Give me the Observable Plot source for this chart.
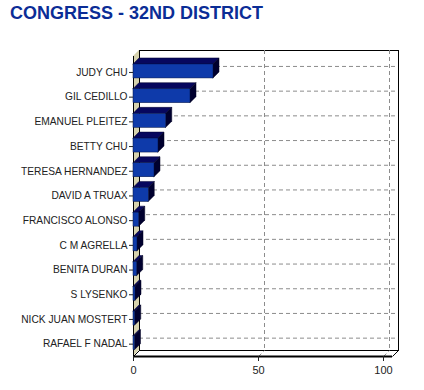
<!DOCTYPE html>
<html><head><meta charset="utf-8">
<script src="https://cdn.jsdelivr.net/npm/d3@7"></script>
<script src="https://cdn.jsdelivr.net/npm/@observablehq/plot@0.6"></script>
<style>
body{margin:0;background:#fff;}
#title{height:27px;padding:3px 0 0 10px;font:bold 18px/20px "Liberation Sans",Arial,sans-serif;color:#0b2d96;white-space:nowrap;}
</style></head><body>
<div id="title">CONGRESS - 32ND DISTRICT</div>
<div id="chart"></div>
<script>
const candidates = ["JUDY CHU","GIL CEDILLO","EMANUEL PLEITEZ","BETTY CHU","TERESA HERNANDEZ","DAVID A TRUAX","FRANCISCO ALONSO","C M AGRELLA","BENITA DURAN","S LYSENKO","NICK JUAN MOSTERT","RAFAEL F NADAL"];
const votes = [32.0, 22.8, 13.1, 10.0, 8.4, 6.1, 2.3, 1.6, 1.5, 0.8, 0.7, 0.6];
const xTicks = [0, 50, 100];

const rows = candidates.map((name, i) => ({name, v: votes[i], i}));

// 3-D depth styling constants (converted to data units)
const PX_X = 2.5, STEP = 24.7;
const DX = 6 / PX_X, DY = 6 / STEP;
const FT = -8 / STEP, FB = 6 / STEP;
const TOP = -0.5 - 3.6 / STEP, BOT = 11.5;
const XR = 100 + 9 / PX_X;

const topFaces = rows.flatMap(d => [
  {i: d.i, y: d.i + FT, x1: 0, x2: d.v},
  {i: d.i, y: d.i + FT - DY, x1: DX, x2: d.v + DX}
]);
const sideFaces = rows.flatMap(d => [
  {i: d.i, x: d.v, y1: d.i + FB, y2: d.i + FT},
  {i: d.i, x: d.v + DX, y1: d.i + FB - DY, y2: d.i + FT - DY}
]);
const wall = [{x: 0, y1: BOT, y2: TOP}, {x: DX, y1: BOT - DY, y2: TOP - DY}];
const grid = "#8c8c8c", dash = "4,3";

const chart = Plot.plot({
  width: 424, height: 360,
  marginTop: 26, marginBottom: 34, marginLeft: 133, marginRight: 32,
  x: {domain: [0, 100], insetRight: 9},
  y: {domain: [-0.5, 11.5], reverse: true, insetTop: 3.6},
  style: {fontFamily: '"Liberation Sans", Arial, sans-serif', background: "#fff", color: "#222"},
  marks: [
    Plot.frame({stroke: "#000", dx: 6, dy: -6}),
    Plot.ruleY(rows, {y: "i", dx: 6, dy: -6, stroke: grid, strokeDasharray: dash}),
    Plot.ruleX([50, 100], {dx: 6, dy: -6, stroke: grid, strokeDasharray: dash}),
    Plot.link([50, 100], {x1: d => d, x2: d => d + DX, y1: BOT, y2: BOT - DY, stroke: grid, strokeDasharray: dash}),
    Plot.areaY(wall, {x: "x", y1: "y1", y2: "y2", fill: "#d6d2ae"}),
    Plot.link([0, XR], {x1: d => d, x2: d => d + DX, y1: BOT, y2: BOT - DY, stroke: "#000"}),
    Plot.ruleY([BOT], {stroke: "#000", strokeWidth: 2}),
    Plot.ruleX([0], {stroke: "#000"}),
    Plot.areaX(topFaces, {y: "y", x1: "x1", x2: "x2", z: "i", fill: "#07075e", stroke: "#000030", strokeWidth: 0.5}),
    Plot.areaY(sideFaces, {x: "x", y1: "y1", y2: "y2", z: "i", fill: "#00002e", stroke: "#000020", strokeWidth: 0.5}),
    Plot.rectX(rows, {x1: 0, x2: "v", y1: d => d.i + FT, y2: d => d.i + FB, fill: "#0e3aaa", stroke: "#001040", strokeWidth: 0.5}),
    Plot.axisY({ticks: rows.map(d => d.i), tickFormat: i => candidates[i], tickSize: 4, tickPadding: 2, fontSize: 10.2, label: null}),
    Plot.axisX({ticks: xTicks, tickSize: 5, tickPadding: 5, fontSize: 11, label: null})
  ]
});
document.getElementById("chart").append(chart);
</script>
</body></html>
